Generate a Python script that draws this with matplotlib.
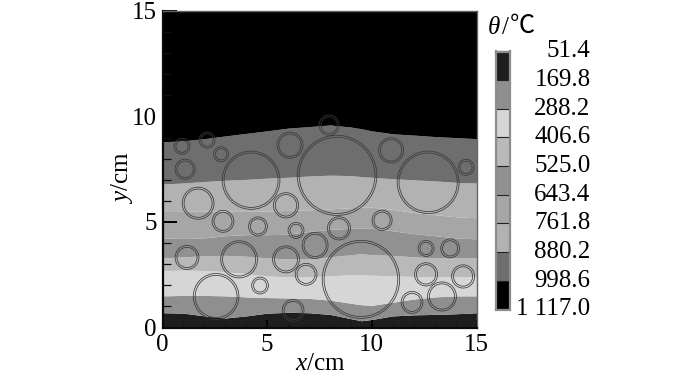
import matplotlib
matplotlib.use("Agg")
import matplotlib.pyplot as plt
from matplotlib.colors import ListedColormap, BoundaryNorm
from matplotlib.patches import Circle
from matplotlib.ticker import MultipleLocator

plt.rcParams['font.family'] = ['Liberation Serif', 'Noto Sans CJK SC']
plt.rcParams['mathtext.fontset'] = 'custom'
plt.rcParams['mathtext.rm'] = 'Liberation Serif'
plt.rcParams['mathtext.it'] = 'Liberation Serif:italic'

# x stations for the isotherm curves, cm
x_st = [0, 1, 2, 3, 4, 5, 6, 7, 8, 9, 9.5, 10, 11, 12, 13, 14, 15]

# isotherm boundaries, bottom to top (cm)
b_1 = [0.70, 0.68, 0.55, 0.45, 0.55, 0.68, 0.72, 0.70, 0.62, 0.42, 0.32, 0.38, 0.55, 0.60, 0.62, 0.65, 0.70]
b_2 = [1.50, 1.52, 1.52, 1.50, 1.45, 1.42, 1.40, 1.38, 1.30, 1.15, 1.08, 1.05, 1.20, 1.35, 1.45, 1.50, 1.50]
b_3 = [2.70, 2.72, 2.70, 2.65, 2.55, 2.45, 2.40, 2.40, 2.45, 2.50, 2.50, 2.48, 2.45, 2.42, 2.40, 2.40, 2.40]
b_4 = [3.30, 3.35, 3.40, 3.42, 3.38, 3.30, 3.25, 3.25, 3.35, 3.45, 3.50, 3.45, 3.42, 3.35, 3.30, 3.30, 3.30]
b_5 = [4.25, 4.22, 4.25, 4.35, 4.40, 4.40, 4.42, 4.55, 4.65, 4.70, 4.72, 4.70, 4.58, 4.45, 4.35, 4.25, 4.20]
b_6 = [5.50, 5.50, 5.52, 5.52, 5.50, 5.52, 5.55, 5.58, 5.62, 5.68, 5.70, 5.70, 5.60, 5.45, 5.35, 5.25, 5.20]
b_7 = [6.80, 6.85, 6.92, 6.98, 7.02, 7.08, 7.12, 7.18, 7.22, 7.20, 7.15, 7.12, 7.05, 7.00, 6.95, 6.88, 6.85]
b_8 = [8.80, 8.85, 8.95, 9.08, 9.20, 9.32, 9.45, 9.52, 9.60, 9.50, 9.42, 9.32, 9.18, 9.12, 9.05, 9.00, 8.95]

# band greys, hottest (bottom) to coldest (top) of the domain
band_greys = ['#1e1e1e', '#8f8f8f', '#d6d6d6', '#b9b9b9', '#919191', '#a6a6a6', '#b2b2b2', '#6e6e6e', '#000000']

# colour bar, listed top to bottom
bar_labels = ['51.4', '169.8', '288.2', '406.6', '525.0', '643.4', '761.8', '880.2', '998.6', '1 117.0']
bar_levels = [51.4, 169.8, 288.2, 406.6, 525.0, 643.4, 761.8, 880.2, 998.6, 1117.0]

# aggregate circles
circ_x = [0.93, 2.13, 2.80, 1.08, 4.23, 6.09, 8.34, 7.96, 10.92, 12.69, 14.50, 1.70, 2.89, 4.56, 5.90, 6.38, 7.29,
          8.43, 10.49, 12.59, 13.74, 1.17, 3.66, 5.90, 6.86, 4.66, 2.56, 6.24, 9.48, 12.59, 14.36, 13.35, 11.92]
circ_y = [8.59, 8.88, 8.21, 7.50, 6.98, 8.64, 7.21, 9.59, 8.40, 6.88, 7.59, 5.89, 5.03, 4.79, 5.79, 4.60, 3.89,
          4.70, 5.08, 3.75, 3.75, 3.32, 3.23, 3.23, 2.52, 1.99, 1.47, 0.81, 2.28, 2.52, 2.42, 1.47, 1.19]
circ_r = [0.38, 0.38, 0.36, 0.48, 1.38, 0.62, 1.90, 0.48, 0.60, 1.48, 0.38, 0.76, 0.52, 0.45, 0.60, 0.38, 0.62,
          0.55, 0.48, 0.38, 0.45, 0.57, 0.88, 0.64, 0.52, 0.40, 1.09, 0.52, 1.85, 0.55, 0.55, 0.69, 0.52]

W, H = 700, 374
FS = 18
fig = plt.figure(figsize=(W / 100, H / 100), dpi=100)
ax = fig.add_axes([162.5 / W, (H - 327.5) / H, 314 / W, 316.5 / H])

bounds = [[0] * len(x_st), b_1, b_2, b_3, b_4, b_5, b_6, b_7, b_8, [15] * len(x_st)]
for lo, hi, c in zip(bounds[:-1], bounds[1:], band_greys):
    ax.fill_between(x_st, lo, hi, color=c, lw=0)

for x, y, r in zip(circ_x, circ_y, circ_r):
    for rr in (r, r - 0.09):
        ax.add_patch(Circle((x, y), rr, fill=False, ec='#3a3a3a', lw=0.55, clip_on=True))

ax.set_xlim(0, 15)
ax.set_ylim(0, 15)
ax.xaxis.set_major_locator(MultipleLocator(5))
ax.yaxis.set_major_locator(MultipleLocator(5))
ax.xaxis.set_minor_locator(MultipleLocator(1))
ax.yaxis.set_minor_locator(MultipleLocator(1))
ax.tick_params(axis='y', which='major', direction='in', length=10, width=1.4, labelsize=FS, pad=4, color='#000000')
ax.tick_params(axis='y', which='minor', direction='in', length=6, width=0.9, color='#111111')
ax.tick_params(axis='x', which='major', direction='in', length=6, width=1.2, labelsize=FS, pad=5, color='#000000')
ax.tick_params(axis='x', which='minor', direction='in', length=3, width=0.8, color='#111111')
for s in ('left', 'bottom'):
    ax.spines[s].set_linewidth(1.6)
    ax.spines[s].set_color('#0a0a0a')
for s in ('right', 'top'):
    ax.spines[s].set_linewidth(1.0)
    ax.spines[s].set_color('#666666')

fig.text(320 / W, 1 - 364 / H, r'$\mathit{x}$/cm', fontsize=FS, ha='center', va='center')
fig.text(122 / W, 1 - 178 / H, r'$\mathit{y}$/cm', fontsize=FS, ha='center', va='center', rotation=90)

# colour bar
cax = fig.add_axes([496 / W, (H - 309.5) / H, 14 / W, 258 / H])
cmap = ListedColormap(band_greys)
norm = BoundaryNorm(bar_levels, cmap.N)
cax.pcolormesh([0, 1], bar_levels, [[v + 1] for v in bar_levels[:-1]], cmap=cmap, norm=norm, shading='flat')
cax.set_ylim(bar_levels[-1], bar_levels[0])
cax.set_xlim(0, 1)
cax.set_xticks([])
cax.set_yticks(bar_levels)
cax.set_yticklabels([])
cax.tick_params(axis='y', direction='in', length=10, width=0.8, color='#222222')
for s in cax.spines.values():
    s.set_linewidth(1.6)
    s.set_color('#8c8c8c')
for lev, lab in zip(bar_levels, bar_labels):
    fig.text(590.5 / W, cax.transData.transform((0, lev))[1] / H, lab, fontsize=FS, ha='right', va='center')

fig.text(488 / W, 1 - 28 / H, '\u03b8', style='italic', fontsize=18, ha='left', va='center')
fig.text(502 / W, 1 - 28 / H, '/', fontsize=18, ha='left', va='center')
fig.text(510 / W, 1 - 27 / H, '\u2103', fontsize=18, ha='left', va='center')

fig.savefig('out.png', dpi=100)
